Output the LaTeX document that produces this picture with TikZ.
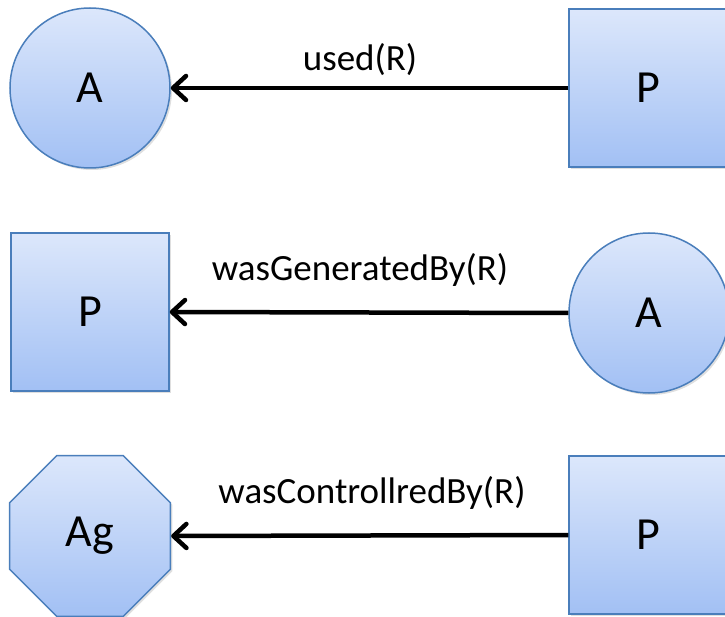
\documentclass[tikz,border=0pt]{standalone}
\usepackage{fontspec}
\setmainfont{Carlito}
\usetikzlibrary{shapes.geometric,arrows.meta,shadows}
\definecolor{topfill}{HTML}{DCE7FB}
\definecolor{botfill}{HTML}{A2C0F4}
\definecolor{edgeblue}{HTML}{4A7EBB}
\tikzset{
  ent/.style={draw=edgeblue, line width=1.5pt, top color=topfill, bottom color=botfill,
    inner sep=0pt, font=\fontsize{46}{46}\selectfont,
    drop shadow={opacity=0.25, shadow xshift=2pt, shadow yshift=-2pt}},
  artifact/.style={ent, circle, minimum size=160pt},
  process/.style={ent, rectangle, minimum size=158pt},
  agent/.style={ent, regular polygon, regular polygon sides=8, minimum size=174pt},
  rel/.style={line width=4.5pt, -{Straight Barb[length=13pt, width=24pt, line cap=round, line join=round]}},
  lbl/.style={font=\fontsize{37}{37}\selectfont, inner sep=0pt}
}
\begin{document}
\begin{tikzpicture}[x=1pt, y=-1pt]
\useasboundingbox (0,0) rectangle (725,617);
% row 1
\node[artifact] (a1) at (90,88) {A};
\node[process] (p1) at (648,88) {P};
\draw[rel] (p1.west) -- (a1.east);
\node[lbl] (l1) at (360,60) {used(R)};
% row 2
\node[process] (p2) at (90,312) {P};
\node[artifact] (a2) at (649,313) {A};
\draw[rel] (a2.west) -- (p2.east);
\node[lbl] (l2) at (360,270) {wasGeneratedBy(R)};
% row 3
\node[agent] (g3) at (90,536) {Ag};
\node[process] (p3) at (648,535) {P};
\draw[rel] (p3.west) -- (g3.east);
\node[lbl] (l3) at (372,493) {wasControllredBy(R)};
\end{tikzpicture}
\end{document}
